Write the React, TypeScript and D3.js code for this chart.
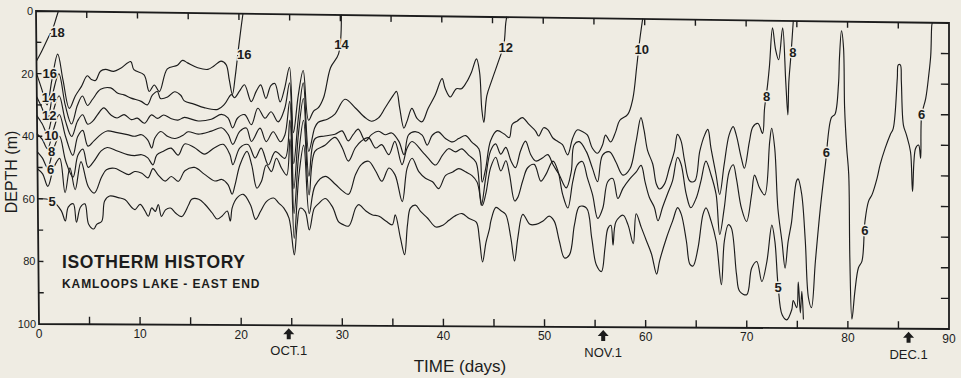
import React from 'react';
import * as d3 from 'd3';

type Pt = [number, number];

// ---- axis / annotation data ----
const xTickValues = d3.range(0, 91, 5);
const xTickLabels = [0, 10, 20, 30, 40, 50, 60, 70, 80, 90];
const yTickValues = d3.range(0, 101, 10);
const yTickLabels = [0, 20, 40, 60, 80, 100];
const monthMarks: { day: number; label: string }[] = [
  { day: 24.7, label: 'OCT.1' },
  { day: 55.8, label: 'NOV.1' },
  { day: 86.0, label: 'DEC.1' },
];

// ---- isotherm series: [day, depth (m)] ----
const iso18: Pt[] = [[0, 16], [0.5, 13], [1.1, 9], [1.7, 5], [2.0, 2], [2.2, 0]];

const iso16: Pt[] = [[0, 20], [0.5, 25], [1.0, 30], [1.5, 22], [2.1, 13.7], [2.6, 22], [3.2, 31], [3.8, 27], [4.4, 24], [5.0, 20.5], [5.4, 21.7], [5.8, 22], [6.3, 19], [6.8, 18.4], [7.6, 19], [8.3, 18], [9.3, 15.8], [9.6, 18.4], [10.6, 20], [11.1, 25.3], [11.6, 23.2], [12.1, 25.3], [12.9, 18], [13.9, 16.8], [14.4, 15.2], [14.9, 16], [15.9, 17.5], [16.9, 18], [17.5, 16.9], [18.2, 15.3], [18.7, 16.4], [19, 21.2], [19.3, 26], [19.6, 20], [19.9, 12], [20.2, 4.6], [20.4, 0]];

const iso14: Pt[] = [[0, 27.5], [0.5, 31], [1.0, 35], [1.6, 26], [2.2, 20], [2.8, 30], [3.4, 36], [4.0, 30], [4.5, 27], [5.0, 30], [5.5, 28], [6.3, 24.8], [7.3, 24.3], [8.0, 26], [8.6, 26.5], [9.3, 27.5], [10.3, 28.5], [10.9, 29.6], [11.4, 26.5], [11.9, 25.3], [12.2, 27.5], [12.9, 27], [13.6, 25.3], [14.2, 26.4], [14.55, 28.2], [15.5, 29.2], [16.5, 30.3], [17.85, 30.8], [18.5, 29.2], [19.2, 26], [19.5, 27], [20, 24.9], [20.5, 22.8], [21.15, 28.2], [21.65, 24.9], [22.1, 22.8], [22.6, 27.1], [23.1, 23], [23.5, 22.3], [24, 28.2], [24.45, 23.9], [24.95, 17], [25.3, 38], [25.8, 26], [26.3, 18], [26.8, 34], [27.3, 31], [27.75, 30], [28.3, 26.6], [29, 17], [29.8, 12.5], [30.1, 0]];

const iso12: Pt[] = [[0, 33.5], [0.5, 36], [1.0, 39], [1.6, 32], [2.2, 27], [2.8, 35], [3.4, 40], [4.0, 35], [4.5, 33], [5.0, 36], [5.5, 35], [6.0, 32.8], [6.6, 30.7], [7.3, 33], [7.9, 33.9], [8.6, 32.8], [9.3, 34.4], [9.9, 33.9], [10.6, 35.5], [11.3, 32.8], [11.9, 33.9], [12.5, 32.8], [13.2, 33.9], [13.9, 34.4], [14.55, 33.5], [15.9, 34.6], [17.2, 34], [18.2, 32.4], [18.85, 33.5], [19.3, 36.7], [19.8, 33.5], [20.5, 32.4], [21.15, 35.6], [21.8, 30.3], [22.5, 33.5], [23.1, 31.4], [23.8, 34.6], [24.45, 30.3], [24.95, 22], [25.3, 48], [25.8, 33], [26.3, 22], [26.8, 44], [27.4, 36.4], [27.75, 34.6], [28.7, 33.5], [29.4, 31.9], [30.4, 27.1], [31.4, 29.8], [32.4, 33], [33, 34.1], [33.7, 33], [34.35, 29.8], [35.2, 25.5], [35.5, 24.4], [35.8, 29.8], [36.2, 36.2], [36.5, 34.1], [37, 29.8], [37.5, 33], [38, 34.1], [38.6, 29.8], [39.3, 25.5], [40, 20.1], [40.3, 23.3], [40.8, 26], [41.4, 23.3], [41.9, 23.3], [42.4, 21.2], [42.9, 17.9], [43.4, 13.6], [43.7, 17.9], [43.9, 29.8], [44.1, 34.1], [44.4, 25.5], [44.9, 20.5], [45.6, 14], [46.1, 9], [46.3, 2], [46.4, 0]];

const iso10: Pt[] = [[0, 39.3], [0.5, 41], [1.0, 44], [1.6, 38], [2.2, 33], [2.8, 40], [3.5, 46], [4.0, 40], [4.5, 38], [5.0, 43], [5.6, 41.3], [6.3, 39.2], [6.9, 38.1], [7.9, 38.6], [8.9, 39.2], [9.6, 39.7], [10.3, 39.2], [10.9, 40.8], [11.3, 43.4], [11.6, 40.3], [12.2, 38.1], [12.9, 39.7], [13.6, 40.3], [14.4, 39.2], [14.9, 38.1], [15.9, 38.8], [17.2, 37.8], [18.2, 36.7], [18.85, 38.8], [19.3, 42], [20, 37.8], [20.65, 36.7], [21.15, 41], [22, 36.7], [22.6, 41], [23.3, 37.8], [24, 41], [24.45, 38.8], [24.95, 28], [25.3, 56], [25.8, 38], [26.3, 27], [26.8, 52], [27.4, 40], [28.4, 39], [29.4, 38.4], [30.1, 37.3], [30.7, 40.5], [31.2, 38.4], [31.7, 36.7], [32.4, 40.5], [33, 38.4], [33.7, 37.3], [34.35, 38.4], [35, 37.8], [35.7, 40.5], [36.2, 44.8], [36.65, 38.4], [37.3, 37.3], [38, 38.4], [38.5, 41.6], [39, 38.4], [39.6, 37.3], [40.3, 39.4], [41, 40.5], [41.6, 39.4], [42.3, 38.4], [42.9, 40.5], [43.6, 42.7], [43.9, 53.4], [44.25, 49.1], [44.75, 40], [45.4, 36.7], [46.1, 37.8], [46.6, 38.9], [46.9, 34.6], [47.4, 33.5], [47.9, 32.4], [48.55, 34.6], [49.2, 36.7], [49.5, 38.3], [50, 35.6], [50.4, 36.2], [50.9, 38.9], [51.4, 40], [51.85, 41], [52.35, 44.3], [52.85, 38.9], [53.3, 36.2], [53.8, 36.7], [54.3, 37.8], [54.8, 42.1], [55.3, 43.7], [55.8, 41], [56.1, 37.8], [56.6, 40], [57.1, 36.7], [57.5, 33], [58.3, 31], [58.8, 26], [59.2, 15.5], [59.5, 7], [59.8, 0]];

const iso8: Pt[] = [[0, 45], [0.5, 47], [1.0, 50], [1.6, 44], [2.2, 40], [2.8, 48], [3.5, 53], [4.0, 46], [4.5, 44], [5.0, 49.8], [5.6, 47.7], [6.3, 44.5], [6.9, 43.4], [7.9, 44.5], [8.9, 45.6], [9.6, 45.9], [10.3, 45.6], [10.9, 46.6], [11.4, 48.8], [11.8, 45.6], [12.4, 44.5], [13.2, 43.4], [13.9, 45.6], [14.55, 42], [15.5, 43.1], [16.5, 45.2], [17.5, 43.1], [18.35, 42], [19, 45.2], [19.3, 48.5], [20, 43.1], [20.8, 42], [21.5, 46.3], [22.1, 43.1], [22.8, 48.5], [23.5, 44.2], [24.45, 46.3], [24.95, 34], [25.3, 64], [25.8, 45], [26.3, 34], [26.8, 58], [27.4, 44], [28.4, 42], [29.4, 39.4], [30.1, 42.7], [30.7, 47], [31.4, 42.7], [32, 40.5], [32.7, 39.4], [33.4, 42.7], [34, 41.6], [34.7, 44.8], [35.3, 40.5], [36, 48], [36.5, 42.7], [37, 40.5], [38, 43.7], [38.6, 45.9], [39.3, 48], [40, 44.8], [40.6, 42.7], [41.3, 43.7], [41.9, 42.7], [42.6, 44.8], [43.3, 47], [43.8, 60.9], [44.25, 52], [44.75, 43.2], [45.25, 41], [45.75, 44.3], [46.25, 42.1], [46.75, 46.4], [47.2, 48.6], [47.7, 43.2], [48.2, 40], [48.7, 44.3], [49.2, 46.4], [49.9, 45.3], [50.4, 44.3], [50.9, 47.5], [51.5, 50.7], [52.2, 55], [52.7, 49.7], [53, 41], [53.5, 40], [54.2, 43.2], [54.8, 48.6], [55.3, 52.9], [55.8, 44.3], [56.5, 43.2], [57.1, 46.4], [57.8, 50.7], [58.5, 48.6], [59.1, 40], [59.6, 32], [59.9, 36], [60.25, 42.7], [60.75, 47], [61.1, 53.5], [61.4, 55.1], [61.9, 53.5], [62.4, 48.1], [62.9, 42.7], [63.2, 37.3], [63.55, 39.4], [63.9, 45.9], [64.4, 52.4], [64.9, 52.4], [65.4, 42.7], [65.9, 37.3], [66.2, 35.6], [66.5, 41.6], [67, 50.3], [67.35, 56.7], [67.8, 47], [68.3, 37.3], [68.7, 34.6], [69, 37.3], [69.5, 44.8], [69.8, 48.1], [70.3, 39.4], [70.65, 34.6], [71.15, 33.5], [71.6, 36.7], [71.8, 28.6], [72.1, 21], [72.3, 14.5], [72.6, 2.3], [72.9, 9.4], [73.2, 12.7], [73.6, 2.3], [73.9, 20], [74.1, 30.6], [74.2, 20], [74.4, 11.7], [74.65, 0]];

const iso6: Pt[] = [[0, 50.5], [0.5, 52], [1.0, 56], [1.6, 50], [2.2, 47], [2.7, 58], [3.2, 50], [3.7, 57], [4.3, 48], [5.0, 56], [5.6, 58], [6.3, 53], [6.8, 50.5], [7.6, 50], [8.3, 51], [9.0, 52], [9.6, 51], [10.3, 51.5], [10.9, 53], [11.4, 50], [11.9, 52], [12.6, 54], [13.2, 52.5], [13.9, 54], [14.55, 50.6], [15.5, 49.5], [16.5, 51.7], [17.5, 53.8], [18.2, 53.3], [18.8, 54.9], [19.2, 58], [19.5, 54.9], [20, 48.5], [20.7, 44.2], [21.15, 48.5], [21.65, 56], [22.1, 53.8], [22.6, 48.5], [23.1, 50.6], [23.6, 46.3], [24.1, 49.5], [24.6, 51.7], [24.95, 40], [25.3, 72], [25.8, 52], [26.3, 42], [26.8, 64], [27.4, 55], [28.4, 52], [29.4, 54.5], [30.1, 56.6], [30.7, 57.7], [31.4, 51.3], [32, 48], [32.7, 47], [33.4, 50.2], [34, 53.4], [34.7, 49.1], [35.3, 51.3], [36, 59.9], [36.5, 49.1], [37, 45.9], [37.65, 50.2], [38.3, 52.3], [39, 53.4], [39.6, 55.6], [40.3, 51.3], [41, 50.2], [41.6, 49.1], [42.3, 50.2], [42.9, 51.3], [43.4, 53.4], [43.9, 60.9], [44.25, 57.2], [44.75, 48.6], [45.25, 45.3], [45.75, 49.7], [46.25, 46.4], [46.6, 50.7], [47.1, 59.4], [47.4, 58.3], [47.9, 52.9], [48.4, 48.6], [49.05, 47.5], [49.7, 52.9], [50.2, 50.7], [50.9, 46.4], [51.4, 49.7], [51.85, 57.2], [52.35, 61.5], [52.85, 52.9], [53.3, 47.5], [53.8, 46.4], [54.3, 51.8], [54.8, 57.2], [55.3, 64.8], [55.8, 61.5], [56.3, 52.9], [56.8, 51.8], [57.3, 58.3], [57.8, 55], [58.5, 51.8], [59.1, 49.7], [59.6, 47.5], [60.0, 53], [60.4, 57.8], [60.9, 61.1], [61.25, 65.4], [61.7, 61.1], [62.2, 56.7], [62.7, 52.4], [63.2, 44.8], [63.55, 47], [64.05, 56.7], [64.5, 61.1], [65.05, 57.8], [65.5, 52.4], [66, 45.9], [66.5, 50.3], [67, 56.7], [67.35, 69.7], [67.8, 61.1], [68.3, 49.2], [68.7, 47], [69, 51.3], [69.5, 61.1], [70, 65.4], [70.5, 56.7], [70.8, 50.3], [71.3, 54.5], [71.8, 56.7], [72.3, 39.4], [72.5, 35], [72.8, 41.6], [73.1, 61.1], [73.5, 71.9], [73.8, 80.5], [74.1, 71.9], [74.45, 65.4], [74.6, 60.6], [74.95, 52], [75.1, 51.4], [75.45, 56.3], [75.8, 71.5], [76.1, 90], [76.4, 93.3], [76.8, 78], [77.3, 60.6], [77.8, 46.5], [78.4, 31.3], [78.75, 30.2], [79.1, 20.4], [79.2, 11.7], [79.4, 3], [79.6, 8.5], [79.7, 28], [79.9, 41.1], [80.1, 49.8], [80.2, 77], [80.4, 97], [80.7, 87.8], [81.05, 80.2], [81.4, 78], [81.7, 65], [82.05, 58.5], [82.4, 56.3], [82.9, 50.9], [83.2, 46.5], [83.7, 41.1], [84.2, 36.7], [84.5, 34.6], [84.9, 18.3], [85, 13.9], [85.2, 13.9], [85.3, 19.3], [85.5, 33.5], [85.8, 36.7], [86.2, 42.2], [86.4, 55.2], [86.7, 41.1], [87, 40], [87.2, 44.3], [87.3, 30.2], [87.7, 24.8], [88, 17.2], [88.2, 10.6], [88.3, 0.9], [88.35, 0]];

const iso5: Pt[] = [[0, 59.9], [1.35, 60.5], [2.3, 63.7], [2.7, 67], [3.0, 62.6], [3.5, 61.5], [3.8, 67.4], [4.2, 62.6], [4.65, 61.5], [5.0, 68], [5.5, 69.5], [5.8, 68], [6.3, 67], [6.6, 60.5], [7.1, 58.9], [7.95, 59.4], [8.6, 60], [9.3, 62.6], [9.6, 63.2], [10.1, 61.5], [10.6, 63.7], [10.9, 65.3], [11.25, 62.6], [11.6, 63.7], [11.9, 61.5], [12.2, 65.3], [12.6, 63.2], [13.1, 62.6], [13.6, 64.2], [14.2, 65.3], [14.9, 61.5], [15.2, 59.7], [15.9, 59.7], [16.5, 61.3], [17.2, 64], [17.7, 66], [18.2, 65], [18.7, 63.4], [19, 66.6], [19.2, 62.3], [19.7, 59.1], [20.3, 58], [21, 61.3], [21.5, 66], [22, 63.4], [22.6, 60.2], [23.3, 59.1], [23.8, 60.7], [24.3, 62.3], [24.8, 65.5], [25.3, 77.3], [25.6, 67.7], [25.9, 62.3], [26.4, 63.4], [26.8, 69.3], [27.3, 62.3], [27.75, 60.7], [28.4, 59.1], [29.1, 61.8], [29.7, 66.6], [30.1, 67.4], [30.7, 67.9], [31.4, 62], [31.7, 61], [32.4, 63], [33, 64.2], [33.7, 64.7], [34.4, 66.3], [35, 67.4], [35.3, 64.2], [35.8, 71.7], [36.2, 77], [36.5, 67.4], [36.8, 62], [37.3, 61], [37.8, 63], [38.5, 65.2], [39.3, 68], [40, 67.4], [40.6, 65.8], [41.3, 64.2], [41.9, 63.6], [42.6, 65.2], [43.3, 66.3], [43.6, 71.7], [43.9, 79.2], [44.25, 72.8], [44.6, 68.5], [44.75, 65.8], [45.25, 61.5], [45.75, 62.6], [46.2, 63.7], [46.7, 71.2], [47.06, 78.8], [47.4, 71.2], [47.9, 63.7], [48.6, 66.9], [49.2, 66.9], [49.9, 65.8], [50.5, 64.2], [51, 65.8], [51.5, 72.3], [52, 77.7], [52.5, 76.6], [53, 66.9], [53.5, 61], [54.2, 61.5], [54.7, 71.2], [55.15, 79.9], [55.65, 82], [56, 74.5], [56.3, 68], [56.6, 67], [56.8, 73.4], [57.1, 65.8], [57.8, 63.7], [58.3, 66.9], [58.8, 72.9], [59.1, 63.2], [59.6, 67.6], [60.1, 71.9], [60.6, 76.2], [61.1, 82.7], [61.4, 78.4], [62.1, 70.8], [62.7, 65.4], [63.2, 61.1], [63.55, 63.2], [64.05, 71.9], [64.4, 79.5], [64.7, 80], [65.2, 74.1], [65.7, 63.2], [66, 61.1], [66.5, 65.4], [67, 71.9], [67.5, 86], [67.8, 71.9], [68.2, 66.5], [68.5, 67.6], [69, 82.7], [69.3, 88.1], [70, 89.2], [70.5, 80.5], [71, 78.4], [71.5, 84.9], [72, 78.4], [72.5, 66.5], [72.8, 71.9], [73.1, 86], [73.5, 95.7], [73.95, 97.3], [74.45, 94], [74.6, 91], [74.95, 93.3], [75.1, 85], [75.3, 95], [75.45, 88], [75.6, 97]];

const isotherms: Pt[][] = [iso18, iso16, iso14, iso12, iso10, iso8, iso6, iso5];

const lineLabels: { text: string; day: number; depth: number }[] = [
  { text: '18', day: 2.1, depth: 6.7 },
  { text: '16', day: 1.3, depth: 20 },
  { text: '14', day: 1.2, depth: 27.5 },
  { text: '12', day: 1.2, depth: 33.5 },
  { text: '10', day: 1.4, depth: 39.6 },
  { text: '8', day: 1.4, depth: 45 },
  { text: '6', day: 1.3, depth: 50.5 },
  { text: '5', day: 1.4, depth: 60.7 },
  { text: '16', day: 20.5, depth: 13 },
  { text: '14', day: 30.1, depth: 9.5 },
  { text: '12', day: 46.3, depth: 9.7 },
  { text: '10', day: 59.7, depth: 9.8 },
  { text: '8', day: 72.0, depth: 24.8 },
  { text: '8', day: 74.6, depth: 10.4 },
  { text: '6', day: 77.9, depth: 42.7 },
  { text: '6', day: 81.7, depth: 68 },
  { text: '6', day: 87.3, depth: 30 },
  { text: '5', day: 73.1, depth: 86.7 },
];

const W = 961;
const H = 378;
const BG = '#efece3';
const INK = '#1c1c1c';
const FONT = '"Liberation Sans", Arial, Helvetica, sans-serif';

export default function App() {
  const xs = d3.scaleLinear().domain([0, 90]).range([0, 1]);
  const ys = d3.scaleLinear().domain([0, 100]).range([0, 1]);
  // slightly skewed (photographed) frame corners
  const TL: Pt = [36, 11];
  const TR: Pt = [949, 23];
  const BL: Pt = [39, 324];
  const BR: Pt = [949, 329];
  const proj = (u: number, v: number): Pt => [
    (1 - u) * (1 - v) * TL[0] + u * (1 - v) * TR[0] + (1 - u) * v * BL[0] + u * v * BR[0],
    (1 - u) * (1 - v) * TL[1] + u * (1 - v) * TR[1] + (1 - u) * v * BL[1] + u * v * BR[1],
  ];
  const P = (day: number, depth: number): Pt => proj(xs(day), ys(depth));

  const lineGen = d3
    .line<Pt>()
    .x((d) => P(d[0], d[1])[0])
    .y((d) => P(d[0], d[1])[1])
    .curve(d3.curveCatmullRom.alpha(0.5));

  const frame = [P(0, 0), P(90, 0), P(90, 100), P(0, 100)];
  const framePath = 'M' + frame.map((p) => p.join(',')).join('L') + 'Z';

  return (
    <svg
      width={W}
      height={H}
      viewBox={`0 0 ${W} ${H}`}
      style={{ position: 'absolute', left: 0, top: 0, background: BG }}
      fontFamily={FONT}
    >
      <rect x={0} y={0} width={W} height={H} fill={BG} />

      {/* isotherms */}
      <g fill="none" stroke={INK} strokeWidth={1.15} strokeLinejoin="round" strokeLinecap="round">
        {isotherms.map((s, i) => (
          <path key={i} d={lineGen(s) || ''} />
        ))}
      </g>

      {/* frame */}
      <path d={framePath} fill="none" stroke={INK} strokeWidth={1.8} />

      {/* ticks */}
      <g stroke={INK} strokeWidth={1.4}>
        {xTickValues.map((d) => {
          const b0 = P(d, 100);
          const b1 = P(d, 97.6);
          const t0 = P(d, 0);
          const t1 = P(d, 2);
          return (
            <g key={'xt' + d}>
              {d > 0 && d < 90 && <line x1={b0[0]} y1={b0[1]} x2={b1[0]} y2={b1[1]} />}
              {d > 0 && d < 90 && <line x1={t0[0]} y1={t0[1]} x2={t1[0]} y2={t1[1]} />}
            </g>
          );
        })}
        {yTickValues.map((v) => {
          const l0 = P(0, v);
          const l1 = P(0.5, v);
          const r0 = P(90, v);
          const r1 = P(89.2, v);
          return (
            <g key={'yt' + v}>
              {v > 0 && v < 100 && <line x1={l0[0]} y1={l0[1]} x2={l1[0]} y2={l1[1]} />}
              {v > 0 && v < 100 && <line x1={r0[0]} y1={r0[1]} x2={r1[0]} y2={r1[1]} />}
            </g>
          );
        })}
      </g>

      {/* x tick labels */}
      <g fill={INK} fontSize={12} textAnchor="middle">
        {xTickLabels.map((d) => {
          const p = P(d, 100);
          return (
            <text key={'xl' + d} x={p[0]} y={p[1] + 13.5}>
              {d}
            </text>
          );
        })}
      </g>

      {/* y tick labels */}
      <g fill={INK} fontSize={11} textAnchor="end">
        {yTickLabels.map((v) => {
          const p = P(0, v);
          return (
            <text key={'yl' + v} x={p[0] - 3} y={p[1] + 4}>
              {v}
            </text>
          );
        })}
      </g>

      {/* month arrows */}
      {monthMarks.map((m) => {
        const p = P(m.day, 100);
        const x = p[0];
        const y = p[1] + 3;
        const arrow = `M${x},${y} L${x + 5.5},${y + 6} L${x + 2},${y + 6} L${x + 2},${y + 11} L${x - 2},${y + 11} L${x - 2},${y + 6} L${x - 5.5},${y + 6} Z`;
        return (
          <g key={m.label}>
            <path d={arrow} fill={INK} />
            <text x={x} y={y + 27} fontSize={13} textAnchor="middle" fill={INK}>
              {m.label}
            </text>
          </g>
        );
      })}

      {/* isotherm labels */}
      <g
        fill={INK}
        fontSize={13}
        fontWeight={700}
        textAnchor="middle"
        stroke={BG}
        strokeWidth={3}
        paintOrder="stroke"
        style={{ paintOrder: 'stroke' }}
      >
        {lineLabels.map((l, i) => {
          const p = P(l.day, l.depth);
          return (
            <text key={'ll' + i} x={p[0]} y={p[1] + 4.5}>
              {l.text}
            </text>
          );
        })}
      </g>

      {/* title */}
      <text x={62} y={268} fontSize={17.5} fontWeight={700} fill={INK} letterSpacing={0.6}>
        ISOTHERM  HISTORY
      </text>
      <text x={62} y={288} fontSize={12} fontWeight={700} fill={INK} letterSpacing={0.9}>
        KAMLOOPS LAKE - EAST END
      </text>

      {/* axis titles */}
      <text x={460} y={372} fontSize={17} textAnchor="middle" fill={INK}>
        TIME  (days)
      </text>
      <text
        transform="translate(17,172) rotate(-90)"
        fontSize={16}
        textAnchor="middle"
        fill={INK}
      >
        DEPTH  (m)
      </text>
    </svg>
  );
}
